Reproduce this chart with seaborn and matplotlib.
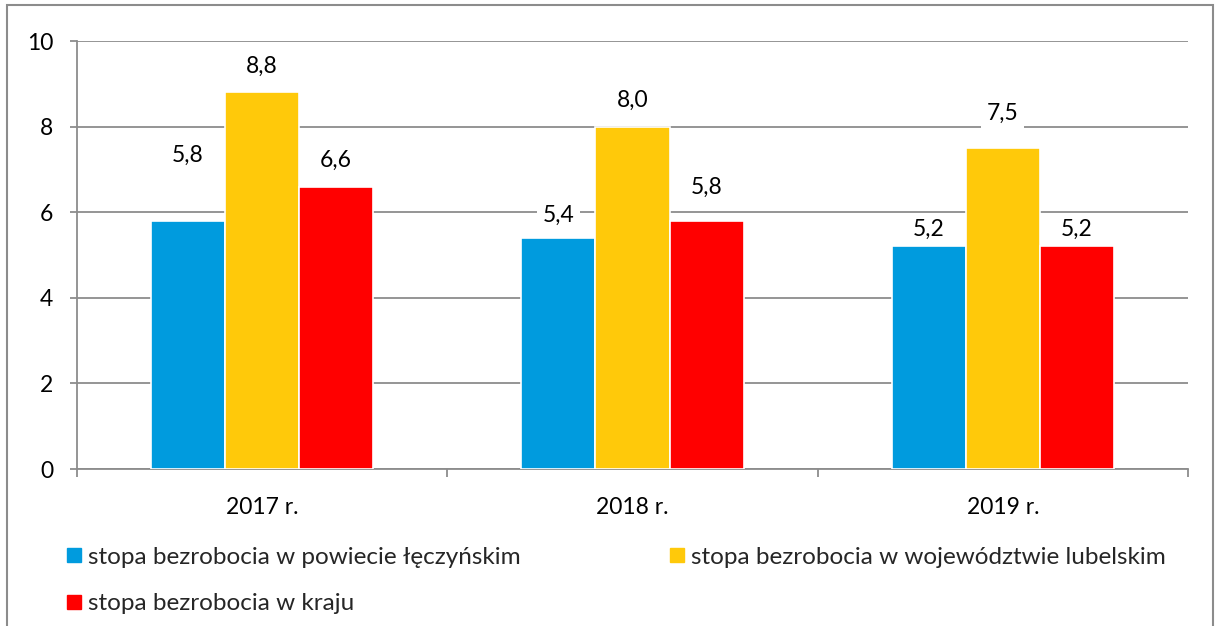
import matplotlib
matplotlib.use("Agg")
import matplotlib.pyplot as plt
import seaborn as sns
import pandas as pd
from matplotlib.patches import Rectangle
from matplotlib.lines import Line2D

years = ["2017 r.", "2018 r.", "2019 r."]
series = ["stopa bezrobocia w powiecie łęczyńskim",
          "stopa bezrobocia w województwie lubelskim",
          "stopa bezrobocia w kraju"]
powiat = [5.8, 5.4, 5.2]
wojewodztwo = [8.8, 8.0, 7.5]
kraj = [6.6, 5.8, 5.2]
colors = ["#009BDE", "#FFC90A", "#FF0000"]
yticks = [0, 2, 4, 6, 8, 10]

# label offsets (points above bar top) per series, per year
label_offsets = [[47, 16, 12], [19, 19, 25], [19, 24, 12]]

rows = []
for s, vals in zip(series, [powiat, wojewodztwo, kraj]):
    for y, v in zip(years, vals):
        rows.append({"rok": y, "seria": s, "wartosc": v})
df = pd.DataFrame(rows)

sns.set_theme(style="white")
plt.rcParams["font.family"] = ["Lato", "DejaVu Sans"]
fs = 16.5

fig = plt.figure(figsize=(12.18, 6.26), dpi=100)
ax = fig.add_axes([77/1218, 1-469/626, (1188-77)/1218, (469-41)/626])

sns.barplot(data=df, x="rok", y="wartosc", hue="seria", hue_order=series,
            palette=colors, order=years, width=0.6, ax=ax, saturation=1,
            edgecolor="white", linewidth=1.2, legend=False, zorder=3)

for ci, cont in enumerate(ax.containers):
    for bi, bar in enumerate(cont):
        v = bar.get_height()
        ax.annotate(f"{v:.1f}".replace(".", ","),
                    xy=(bar.get_x() + bar.get_width()/2, v),
                    xytext=(0, label_offsets[ci][bi]), textcoords="offset points",
                    ha="center", va="center", fontsize=fs, color="black",
                    bbox=dict(boxstyle="square,pad=0.25", fc="white", ec="none"),
                    zorder=5)

ax.set_ylim(0, 10)
ax.set_xlim(-0.5, 2.5)
ax.set_yticks(yticks)
ax.set_yticklabels([str(t) for t in yticks])
ax.yaxis.grid(True, color="#8c8c8c", linewidth=1.3, zorder=0)
ax.set_axisbelow(True)
ax.set_xlabel("")
ax.set_ylabel("")
for sp in ["top", "right"]:
    ax.spines[sp].set_visible(False)
for sp in ["left", "bottom"]:
    ax.spines[sp].set_color("#8c8c8c")
    ax.spines[sp].set_linewidth(1.3)
ax.tick_params(axis="y", which="major", left=True, length=5, width=1.3,
               color="#8c8c8c", pad=12, labelsize=fs, labelcolor="black")
ax.tick_params(axis="x", which="major", bottom=False, pad=14, labelsize=fs,
               labelcolor="black")
ax.set_xticks([-0.5, 0.5, 1.5, 2.5], minor=True)
ax.tick_params(axis="x", which="minor", bottom=True, length=6, width=1.3,
               color="#8c8c8c")

# legend
lfs = 17.5
handles = [Line2D([], [], marker="s", linestyle="none", markersize=10,
                  markerfacecolor=c, markeredgecolor=c) for c in colors]
leg1 = fig.legend([handles[0], handles[2]], [series[0], series[2]],
                  loc="upper left", bbox_to_anchor=(52/1218, 1-537/626),
                  frameon=False, fontsize=lfs, handletextpad=0.1,
                  handlelength=1.0, labelspacing=1.05, borderaxespad=0)
leg2 = fig.legend([handles[1]], [series[1]],
                  loc="upper left", bbox_to_anchor=(655/1218, 1-537/626),
                  frameon=False, fontsize=lfs, handletextpad=0.1,
                  handlelength=1.0, borderaxespad=0)

# outer border
fig.patches.append(Rectangle((7/1218, -0.05), (1213-7)/1218, 1.05 - 5/626,
                             transform=fig.transFigure, fill=False,
                             edgecolor="#8c8c8c", linewidth=1.5))

fig.savefig("out.png", dpi=100)
